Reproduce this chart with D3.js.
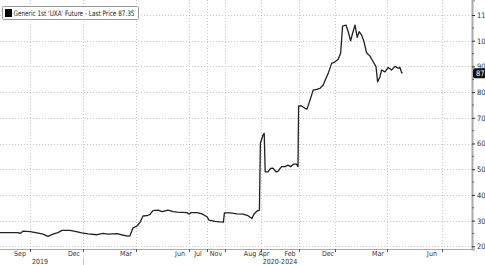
<!DOCTYPE html>
<html>
<head>
<meta charset="utf-8">
<script src="https://cdn.jsdelivr.net/npm/d3@7"></script>
<style>
  body { margin: 0; background: #fff; }
  svg text { font-family: "Liberation Sans Narrow", "DejaVu Sans Condensed", "Liberation Sans", sans-serif; fill: #333; }
</style>
</head>
<body>
<div id="chart"></div>
<script>
// time index (compressed trading axis, 2019 then 2020-2024)
const t = [0, 9, 10, 11.5, 15, 18.5, 21.5, 24, 26.5, 29,
    31, 35, 37.5, 41, 44, 48.5, 51.5, 54, 58.5, 61,
    64, 65, 66.5, 68.5, 70, 71.5, 73.5, 75, 76.5, 79,
    81, 84, 86.5, 88.5, 93.5, 94.5, 95.5, 98.5, 101, 103.5,
    104.5, 107.5, 110, 111.7, 112.2, 115, 118.5, 121.5, 124, 126,
    127, 128.5, 129.7, 130.2, 131.5, 132.1, 132.6, 134, 135.3, 136.5,
    138, 139, 140.8, 142.5, 144, 145.3, 147, 148.3, 149, 149.3,
    150.8, 152.5, 153.5, 155, 156.6, 158.3, 160, 161.6, 163, 164.1,
    165.8, 167.5, 169.1, 170.3, 171.3, 173, 174.1, 175.3, 176.3, 177.5,
    178.6, 179.6, 180.8, 182, 183.3, 185, 186.6, 188, 188.8, 190,
    190.8, 192.5, 194.1, 195.8, 197.5, 199.1, 200, 200.8, 201.3];

const price = [25.3, 25.3, 25.0, 25.9, 25.7, 25.2, 24.7, 23.9, 24.7, 25.3,
    26.2, 26.2, 25.8, 25.2, 24.8, 24.5, 25.0, 24.7, 24.9, 24.4,
    24.0, 24.1, 27.2, 27.9, 29.3, 31.8, 31.9, 32.4, 33.9, 34.1,
    33.5, 34.1, 33.5, 33.3, 33.1, 32.5, 33.1, 33.1, 32.6, 31.5,
    30.2, 29.7, 29.5, 29.4, 33.0, 33.0, 32.6, 32.5, 31.9, 30.8,
    32.6, 33.7, 34.1, 60.1, 63.3, 64.0, 49.0, 49.0, 50.3, 50.4,
    49.0, 49.2, 51.0, 51.0, 51.6, 51.0, 52.0, 52.0, 51.0, 74.6,
    74.6, 73.7, 73.4, 76.9, 80.8, 81.1, 81.5, 82.8, 85.4, 87.3,
    91.2, 91.8, 92.8, 95.1, 105.7, 106.1, 103.5, 100.0, 102.9, 106.1,
    101.3, 103.5, 102.2, 99.6, 95.3, 94.0, 91.8, 89.9, 84.0, 86.0,
    88.6, 87.9, 89.6, 88.6, 90.0, 89.3, 89.6, 87.6, 87.35];

const lastPrice = 87.35;
const monthLabels = ["Sep", "Dec", "Mar", "Jun", "Jul", "Nov", "Aug", "Apr", "Feb", "Dec", "Mar", "Jun"];
const monthPos = [10, 37, 63, 90, 99, 108, 125, 132, 145, 164, 189, 216];
const gridPos = [15, 41.5, 68, 94.5, 103.5, 112.5, 130.5, 149.5, 167.5, 193.5, 221];
const yearLabels = ["2019", "2020-2024"];
const yearPos = [20, 140];
const yearBreak = 41.5;
const yTicks = [20, 30, 40, 50, 60, 70, 80, 90, 100, 110];

const width = 485, height = 265;
const plotRight = 472, plotBottom = 249;

const svg = d3.select("#chart").append("svg")
    .attr("width", width)
    .attr("height", height);

const x = d3.scaleLinear().domain([0, 236]).range([0, plotRight]);
const y = d3.scaleLinear().domain([18.95, 115.85]).range([plotBottom, 0]);

// grid
svg.append("g").selectAll("line").data(yTicks).join("line")
    .attr("x1", 0).attr("x2", plotRight)
    .attr("y1", d => Math.round(y(d)) + 0.5).attr("y2", d => Math.round(y(d)) + 0.5)
    .attr("stroke", "#c8c8c8").attr("stroke-dasharray", "1,2");

svg.append("g").selectAll("line").data(gridPos).join("line")
    .attr("x1", d => Math.round(x(d)) + 0.5).attr("x2", d => Math.round(x(d)) + 0.5)
    .attr("y1", 0).attr("y2", plotBottom)
    .attr("stroke", "#c8c8c8").attr("stroke-dasharray", "1,2");

// right axis
const yAxis = d3.axisRight(y).tickValues(yTicks).tickSize(3).tickPadding(2);
const gy = svg.append("g").attr("transform", `translate(${plotRight},0)`).call(yAxis);
gy.select(".domain").attr("stroke", "#aaa").attr("stroke-width", 2);
gy.selectAll(".tick line").attr("stroke", "#333");
gy.selectAll("text").style("font-size", "7.5px").attr("fill", "#444");
const minor = d3.range(25, 115, 10);
svg.append("g").selectAll("line").data(minor).join("line")
    .attr("x1", plotRight).attr("x2", plotRight + 2)
    .attr("y1", d => y(d)).attr("y2", d => y(d))
    .attr("stroke", "#666");

// bottom axis
svg.append("line")
    .attr("x1", 0).attr("x2", plotRight + 1)
    .attr("y1", plotBottom + 0.5).attr("y2", plotBottom + 0.5)
    .attr("stroke", "#aaa");
svg.append("g").selectAll("line").data(gridPos).join("line")
    .attr("x1", d => Math.round(x(d)) + 0.5).attr("x2", d => Math.round(x(d)) + 0.5)
    .attr("y1", plotBottom).attr("y2", plotBottom + 3)
    .attr("stroke", "#555");
svg.append("g").selectAll("text").data(monthLabels).join("text")
    .attr("x", (d, i) => x(monthPos[i]))
    .attr("y", 256)
    .attr("text-anchor", "middle")
    .style("font-size", "7px")
    .text(d => d);
svg.append("g").selectAll("text").data(yearLabels).join("text")
    .attr("x", (d, i) => x(yearPos[i]))
    .attr("y", 264)
    .attr("text-anchor", "middle")
    .style("font-size", "7px")
    .text(d => d);
svg.append("line")
    .attr("x1", Math.round(x(yearBreak)) + 0.5).attr("x2", Math.round(x(yearBreak)) + 0.5)
    .attr("y1", 257).attr("y2", 265)
    .attr("stroke", "#ccc");

// price line
const line = d3.line().x((d, i) => x(t[i])).y(d => y(d));
svg.append("path")
    .datum(price)
    .attr("d", line)
    .attr("fill", "none")
    .attr("stroke", "#222")
    .attr("stroke-width", 1.3)
    .attr("stroke-linejoin", "round");

// last price tag
const tag = svg.append("g").attr("transform", `translate(${plotRight + 1},${y(lastPrice)})`);
tag.append("rect").attr("x", 0).attr("y", -5).attr("width", 20).attr("height", 10)
    .attr("rx", 2).attr("fill", "#111");
tag.append("text").attr("x", 3).attr("y", 3)
    .style("font-size", "7.5px").style("fill", "#fff")
    .text(lastPrice.toFixed(2));

// legend
const lg = svg.append("g");
lg.append("rect").attr("x", 2.5).attr("y", 6.5).attr("width", 136).attr("height", 13)
    .attr("fill", "#fff").attr("stroke", "#999").attr("rx", 1);
lg.append("rect").attr("x", 5).attr("y", 9).attr("width", 7).attr("height", 8).attr("fill", "#000");
lg.append("text").attr("x", 13.5).attr("y", 16.3)
    .attr("textLength", 121).attr("lengthAdjust", "spacingAndGlyphs")
    .style("font-size", "7.5px").style("fill", "#222")
    .text("Generic 1st 'UXA' Future - Last Price " + lastPrice);
</script>
</body>
</html>
